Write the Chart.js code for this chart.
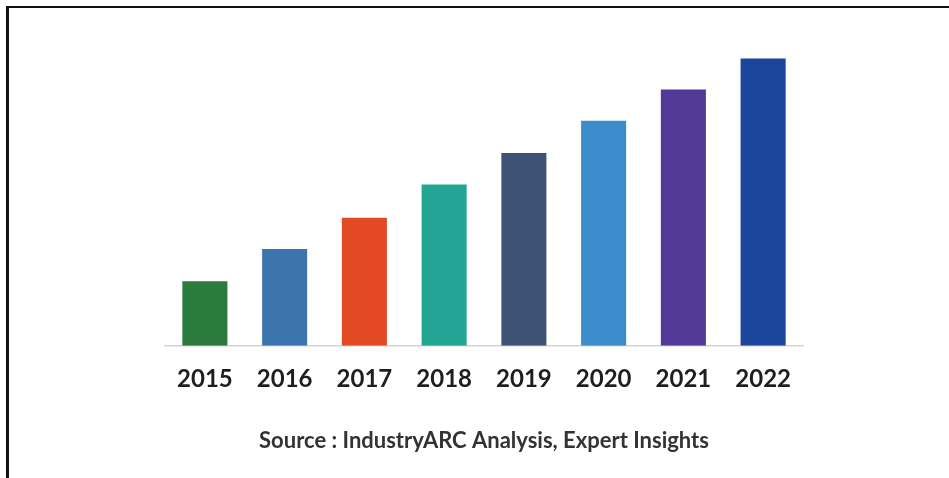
<!DOCTYPE html>
<html>
<head>
<meta charset="utf-8">
<script src="https://cdn.jsdelivr.net/npm/chart.js@4/dist/chart.umd.min.js"></script>
<style>
  html, body { margin: 0; padding: 0; background: #ffffff; }
  #wrap { position: relative; width: 949px; height: 478px; overflow: hidden; }
  #frame {
    position: absolute; left: 6px; top: 6px; right: 0; bottom: 0;
    border-top: 2px solid #111111; border-left: 3px solid #111111;
    pointer-events: none;
  }
  canvas { position: absolute; left: 0; top: 0; }
</style>
</head>
<body>
<div id="wrap">
  <canvas id="chart" width="949" height="478"></canvas>
  <div id="frame"></div>
</div>
<script>
// Market size by year (relative units)
const years = ['2015', '2016', '2017', '2018', '2019', '2020', '2021', '2022'];
const marketValues = [2.0, 3.0, 3.97, 5.0, 5.97, 6.97, 7.94, 8.9];
const barColors = ['#2a7b3c', '#3c74ad', '#e24a26', '#22a595', '#3e5275', '#3a8ccb', '#533997', '#1c469d'];
const sourceNote = 'Source : IndustryARC Analysis, Expert Insights';

new Chart(document.getElementById('chart'), {
  type: 'bar',
  data: {
    labels: years,
    datasets: [{
      data: marketValues,
      backgroundColor: barColors,
      borderWidth: 0,
      categoryPercentage: 1.0,
      barPercentage: 0.565
    }]
  },
  options: {
    responsive: false,
    animation: false,
    layout: { padding: { left: 165, right: 146, top: 23, bottom: 24 } },
    plugins: { legend: { display: false }, tooltip: { enabled: false } },
    scales: {
      y: { display: false, min: 0, max: 10 },
      x: {
        grid: { display: false, drawTicks: false },
        border: { display: true, color: '#d4d4d4', width: 1.5 },
        ticks: {
          padding: 19,
          color: '#1e1e1e',
          font: { family: 'Lato', size: 24, weight: 'bold' }
        },
        title: {
          display: true,
          text: sourceNote,
          color: '#333333',
          font: { family: 'Lato', size: 22, weight: 'bold' },
          padding: { top: 15, bottom: 0 }
        }
      }
    }
  }
});
</script>
</body>
</html>
